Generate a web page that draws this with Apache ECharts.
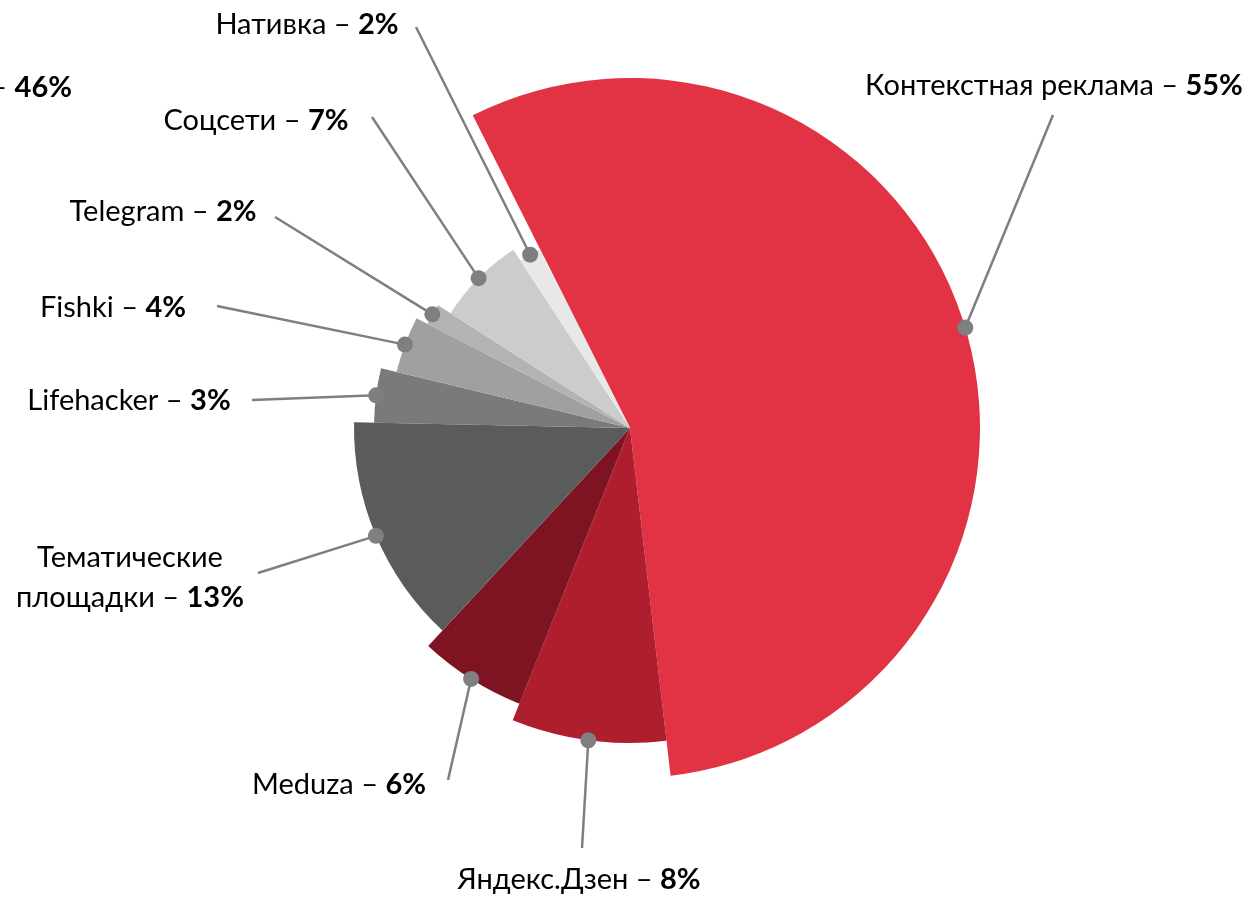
<!DOCTYPE html>
<html><head><meta charset="utf-8">
<script src="https://cdn.jsdelivr.net/npm/echarts@6/dist/echarts.min.js"></script>
<style>html,body{margin:0;padding:0;background:#fff}#c{width:1250px;height:898px}</style>
</head><body><div id="c"></div>
<script>
// ---- data (shares; labels show them rounded) ----
const categories = ['Контекстная реклама', 'Яндекс.Дзен', 'Meduza', 'Тематические\nплощадки', 'Lifehacker', 'Fishki', 'Telegram', 'Соцсети', 'Нативка'];
const shares = [55.4, 7.9, 5.8, 13.4, 3.4, 3.8, 1.5, 6.7, 1.8];
const strayLabel = ['–', '46%'];

// ---- styles / layout ----
const colors = ['#E23345', '#AE1E2F', '#7E1422', '#5A5C5B', '#797A79', '#A0A0A0', '#B3B3B3', '#CCCCCB', '#E8E8E8'];
const radii = [350, 315, 297, 276, 256, 240, 228, 213, 200];
const labelPos = [[1054, 86], [579, 880], [339, 785], [130, 578], [129, 401], [113, 308], [163, 212], [256, 121], [307, 25]];
const lineEnds = [[1053, 115], [582, 848], [448, 780], [258, 573], [252, 400], [217, 306], [275, 217], [372, 117], [416, 27]];
const FONT = 'Lato, "Open Sans", sans-serif';
const FS = 29;
const rich = {
  n: { fontFamily: FONT, fontSize: FS, color: '#000', lineHeight: 40, align: 'center' },
  b: { fontFamily: FONT, fontSize: FS, color: '#000', fontWeight: 'bold', lineHeight: 40, align: 'center' }
};

const chart = echarts.init(document.getElementById('c'), null, { renderer: 'canvas' });

const series = categories.map((c, i) => ({
  type: 'pie',
  center: [630, 428],
  radius: [0, radii[i]],
  startAngle: 116.7,
  clockwise: true,
  animation: false,
  silent: true,
  avoidLabelOverlap: false,
  emphasis: { disabled: true },
  labelLine: { show: false },
  label: {
    position: 'outside',
    overflow: 'none',
    formatter: p => `{n|${p.name} – }{b|${Math.round(p.value)}%}`,
    rich: rich
  },
  labelLayout: () => ({ x: labelPos[i][0], y: labelPos[i][1], align: 'center', verticalAlign: 'middle' }),
  data: categories.map((name, j) => ({
    name: name,
    value: shares[j],
    itemStyle: { color: j === i ? colors[j] : 'rgba(0,0,0,0)', borderWidth: 0 },
    label: { show: j === i }
  }))
}));

chart.setOption({ backgroundColor: '#fff', animation: false, series: series });

// leader lines with dots, anchored at each slice's outer edge (from the library's layout)
const model = chart.getModel();
const g = [];
categories.forEach((c, i) => {
  const lay = model.getSeriesByIndex(i).getData().getItemLayout(i);
  const mid = (lay.startAngle + lay.endAngle) / 2;
  const px = lay.cx + lay.r * Math.cos(mid);
  const py = lay.cy + lay.r * Math.sin(mid);
  g.push({ type: 'line', z: 100, silent: true, shape: { x1: px, y1: py, x2: lineEnds[i][0], y2: lineEnds[i][1] }, style: { stroke: '#7F7F7F', lineWidth: 2.5 } });
  g.push({ type: 'circle', z: 101, silent: true, shape: { cx: px, cy: py, r: 8 }, style: { fill: '#7F7F7F' } });
});
g.push({
  type: 'text', z: 100, silent: true, x: 72, y: 88,
  style: { text: `{n|${strayLabel[0]} }{b|${strayLabel[1]}}`, rich: rich, align: 'right', verticalAlign: 'middle', textAlign: 'right', textVerticalAlign: 'middle' }
});
chart.setOption({ graphic: g });
</script>
</body></html>
